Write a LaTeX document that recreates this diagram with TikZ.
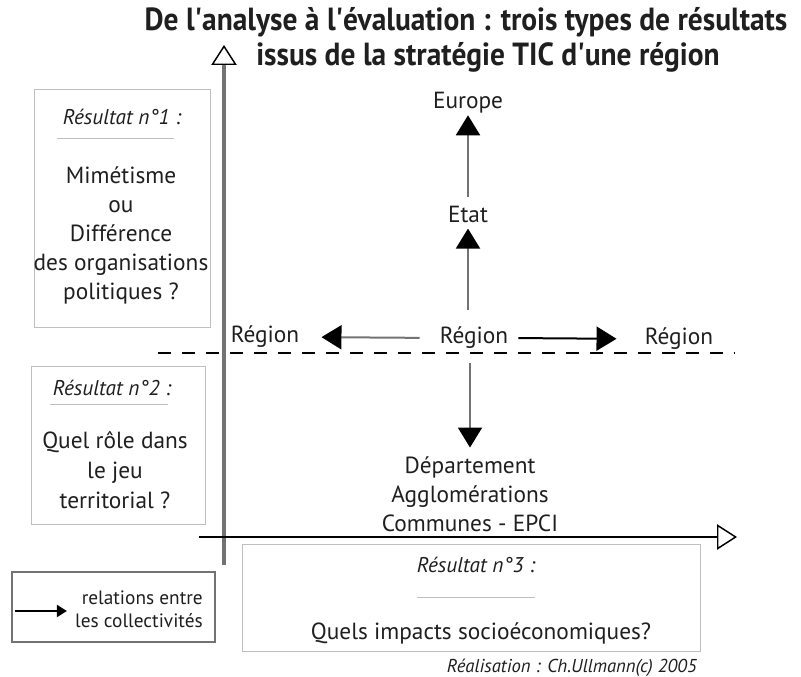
\documentclass[tikz,border=0pt]{standalone}
\usepackage{fontspec}
\setmainfont{PT Sans}
\usepackage{xcolor}
\usetikzlibrary{arrows.meta}

\definecolor{boxgray}{gray}{0.75}
\definecolor{axisgray}{gray}{0.45}
\definecolor{ink}{gray}{0.12}

\begin{document}
\begin{tikzpicture}[x=0.75pt,y=-0.75pt,
  lbl/.style={font=\fontsize{17.5}{22}\selectfont, text height=13pt, text depth=4pt},
  res/.style={font=\fontsize{16}{19}\itshape\selectfont},
  boite/.style={draw=boxgray, line width=0.75pt},
  filet/.style={draw=boxgray, line width=0.75pt},
  flux/.style={line width=1.5pt, axisgray, -{Triangle[length=15pt,width=18pt,color=black]}},
  axe/.style={-{Triangle[open,length=15pt,width=19pt,color=black,line width=1.1pt]}}]
\useasboundingbox (0,0) rectangle (801,677);
\begin{scope}[every node/.style={inner sep=0pt, text=ink, align=center}]

% titre
\node (t1) at (466,22) {\fontsize{24}{28}\bfseries\selectfont\scalebox{0.92}[1]{De l\textquotesingle analyse à l\textquotesingle évaluation : trois types de résultats}};
\node (t2) at (488,57) {\fontsize{24}{28}\bfseries\selectfont\scalebox{0.92}[1]{issus de la stratégie TIC d\textquotesingle une région}};

% axes
\coordinate (ybas) at (224,565);
\coordinate (yhaut) at (224,45);
\coordinate (xg) at (199,537);
\coordinate (xd) at (737,537);
\draw[axe, axisgray, line width=2.4pt] (ybas) -- (yhaut);
\draw[axe, black, line width=1.5pt] (xg) -- (xd);

% ligne en tirets
\coordinate (tg) at (158,353);
\coordinate (td) at (735,353);
\draw[black, line width=1.2pt, dash pattern=on 10pt off 8pt] (tg) -- (td);

% collectivites
\node[lbl] (eu) at (468,103) {Europe};
\node[lbl] (etat) at (468,217) {Etat};
\node[lbl] (reg) at (474,338) {Région};
\node[lbl] (regg) at (265,337) {Région};
\node[lbl] (regd) at (679,339) {Région};
\node[font=\fontsize{17.5}{21.75}\selectfont] (coll) at (470,494) {Département\\Agglomérations\\Communes - EPCI};

\draw[flux, shorten <=6.5pt, shorten >=0.5pt] (etat) -- (eu);
\draw[flux, shorten <=12.5pt] (reg.north -| etat) -- (etat);
\draw[flux, shorten <=10.3pt, shorten >=6.5pt] (reg.south -| coll) -- (coll);
\draw[flux, shorten <=15pt, shorten >=16.5pt] (reg.west) -- (regg.east);
\draw[flux, black, shorten <=7.5pt, shorten >=21pt] (reg.east) -- (regd.west);

% resultat 1
\node[boite, minimum width=132pt, minimum height=178.5pt] (b1) at (122,209) {};
\node[res] (r1) at (122,117) {Résultat n°1 :};
\draw[filet] (57,139) -- (174,139);
\node[font=\fontsize{17.5}{21.75}\selectfont] (q1) at (121,235) {Mimétisme\\ou\\Différence\\des organisations\\politiques ?};

% resultat 2
\node[boite, minimum width=130.5pt, minimum height=118.5pt] (b2) at (118,446) {};
\node[res] (r2) at (112,388) {Résultat n°2 :};
\draw[filet] (50,405) -- (168,405);
\node[font=\fontsize{17.5}{22.5}\selectfont] (q2) at (115,470) {Quel rôle dans\\le jeu\\territorial ?};

% resultat 3
\node[boite, minimum width=343.5pt, minimum height=80.25pt] (b3) at (471,598.5) {};
\node[res] (r3) at (476,565) {Résultat n°3 :};
\draw[filet] (417,598) -- (535,598);
\node[font=\fontsize{17.5}{20}\selectfont] (q3) at (481,633) {Quels impacts socioéconomiques?};

% legende
\node[draw=axisgray, line width=1.8pt, minimum width=152.25pt, minimum height=52.5pt] (leg) at (113.5,607) {};
\node[align=right, anchor=east, font=\fontsize{14.5}{17}\selectfont] (legt) at (203,609) {relations entre\\les collectivités};
\coordinate (lg) at (15,611);
\draw[black, line width=1.5pt, -{Triangle[length=7.5pt,width=9pt]}, shorten >=6pt] (lg) -- (lg -| legt.west);

% realisation
\node[anchor=east, font=\fontsize{14}{16}\itshape\selectfont] (real) at (697,668) {Réalisation : Ch.Ullmann(c) 2005};
\end{scope}

\end{tikzpicture}
\end{document}
